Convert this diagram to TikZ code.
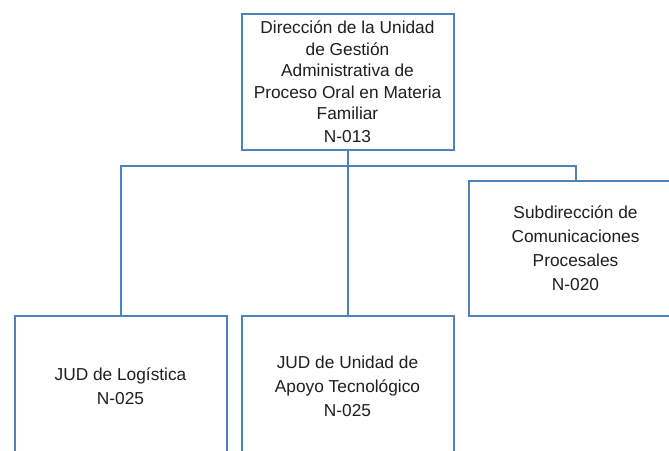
\documentclass[tikz,border=0pt]{standalone}
\usepackage{fontspec}
\setmainfont{Liberation Sans}
\begin{document}
\begin{tikzpicture}[x=1pt,y=-1pt,
  orgbox/.style={draw=boxblue, line width=2pt, fill=white, inner sep=0pt, align=center,
    text=black!88, font=\fontsize{17.3}{24}\selectfont},
  link/.style={draw=boxblue, line width=2pt}]
\definecolor{boxblue}{RGB}{79,129,189}
\useasboundingbox (0,0) rectangle (669,450);
\clip (0,0) rectangle (669,450);
\node[orgbox, minimum width=212pt, minimum height=136pt,
  font=\fontsize{17.3}{21.5}\selectfont] (top) at (347.5,82)
  {Dirección de la Unidad\\de Gestión\\Administrativa de\\Proceso Oral en Materia\\Familiar\\[1.5pt]N-013};
\node[orgbox, minimum width=214pt, minimum height=135pt] (sub) at (575.5,248.5)
  {Subdirección de\\Comunicaciones\\Procesales\\N-020};
\node[orgbox, minimum width=212pt, minimum height=140pt] (log) at (120.5,386)
  {JUD de Logística\\N-025};
\node[orgbox, minimum width=212pt, minimum height=140pt] (tec) at (347.5,386)
  {JUD de Unidad de\\Apoyo Tecnológico\\N-025};
\coordinate (bus) at (347.5,165.5);
\draw[link] (top.south) -- (bus) -| (log.north);
\draw[link] (bus) -- (tec.north);
\draw[link] (bus) -| (sub.north);
\end{tikzpicture}
\end{document}
